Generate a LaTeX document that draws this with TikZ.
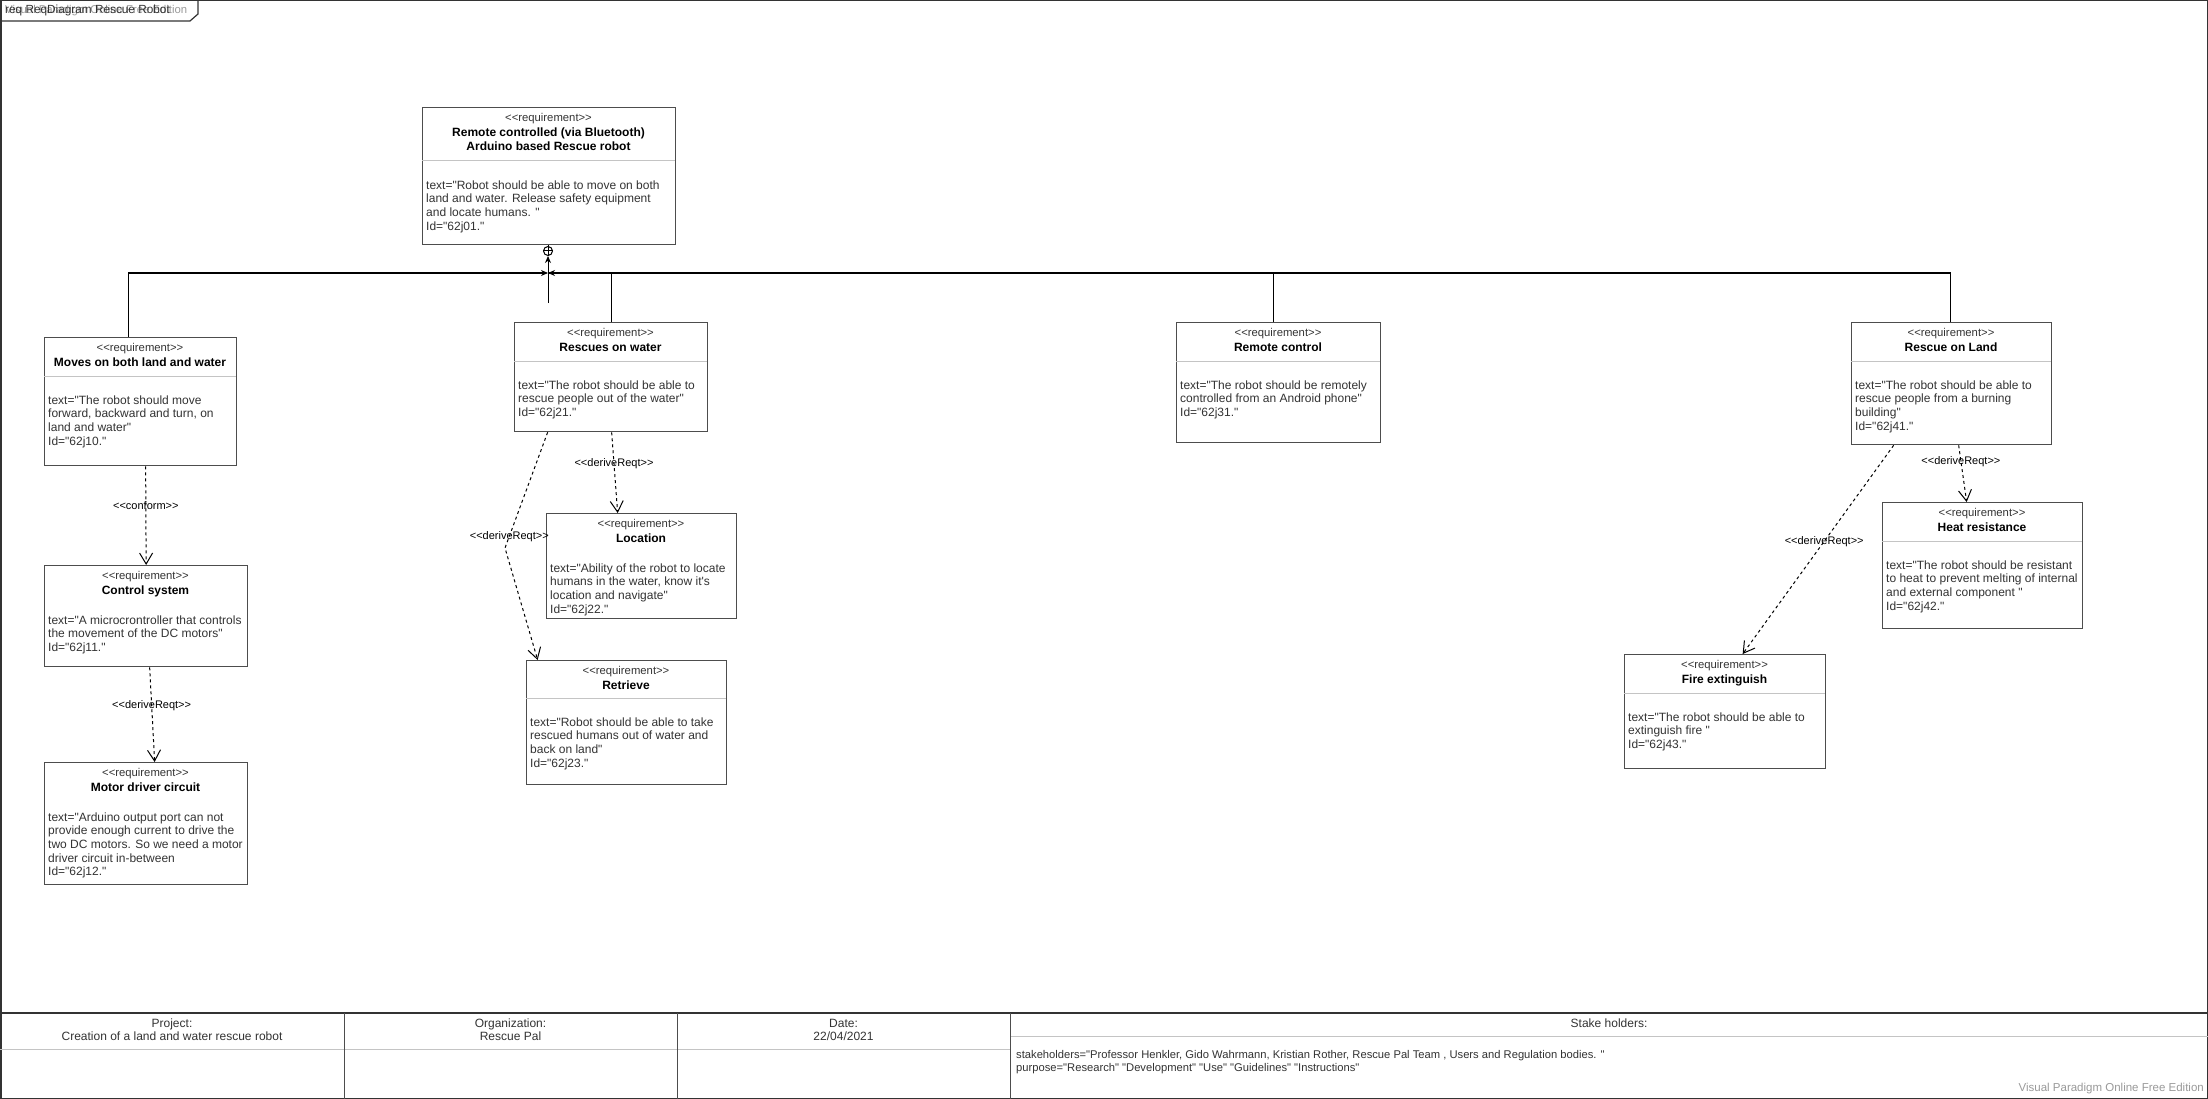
\documentclass[tikz,border=0pt]{standalone}
\usepackage{fontspec}
\setmainfont{Liberation Sans}[Ligatures=TeXOff]
\usetikzlibrary{arrows.meta,calc}

\definecolor{boxline}{HTML}{4D4D4D}
\definecolor{sepcol}{HTML}{C4C4C4}
\definecolor{txt}{HTML}{333333}
\definecolor{wmark}{HTML}{9A9A9A}

\tikzset{
  reqframe/.style={draw=boxline, line width=1.3pt, fill=white, inner sep=0pt},
  sepline/.style={draw=sepcol, line width=1pt},
  stereo/.style={inner sep=0pt, text=txt, font=\fontsize{11.3}{12.6}\selectfont},
  reqname/.style={inner sep=0pt, text=black, align=center, font=\fontsize{12}{14}\selectfont\bfseries},
  reqbody/.style={inner sep=0pt, anchor=north west, align=left, text=txt, font=\fontsize{12}{13.7}\selectfont},
  dep/.style={draw=black, line width=1pt, dash pattern=on 3pt off 3pt, -{Straight Barb[length=11pt,width=13pt,line width=1pt]}},
  lbl/.style={inner sep=0pt, text=black, font=\fontsize{11}{12}\selectfont},
  hubline/.style={draw=black, line width=1.5pt},
  hubtip/.style={-{Stealth[length=7pt,width=6pt]}},
  foot/.style={inner sep=0pt, text=txt, font=\fontsize{11.2}{13}\selectfont},
  foothead/.style={inner sep=0pt, text=txt, align=center, font=\fontsize{12}{13}\selectfont},
}

% requirement box: name, left, top, right, bottom, separator y (0 = none), title, body
\newcommand{\reqbox}[8]{%
  \node[reqframe, anchor=north west, minimum width={#4-#2}, minimum height={#5-#3}] (#1) at (#2,#3) {};
  \node[stereo, anchor=north] (#1-st) at ({(#2+#4)/2},{#3+5.7}) {\strut<<requirement>>};
  \node[reqname, anchor=north] (#1-nm) at ({(#2+#4)/2},{#3+19.5}) {\strut #7};
  \ifnum#6>0
    \draw[sepline] (#2,#6) -- (#4,#6);
    \node[reqbody] (#1-tx) at ({#2+4},{#6+18.3}) {\strut #8};
  \else
    \node[reqbody] (#1-tx) at ({#2+4},{#3+49.3}) {\strut #8};
  \fi
}

\begin{document}
\begin{tikzpicture}[x=1pt, y=-1pt]
\useasboundingbox (0,0) rectangle (2208,1099);
\fill[white] (0,0) rectangle (2208,1099);

% diagram frame and its name tab
\draw[draw=txt, line width=1.5pt] (0.75,0.75) rectangle (2207.25,1098.25);
\draw[draw=txt, line width=1.2pt] (0,21) -- (190,21) -- (198,14) -- (198,0);
\node[inner sep=0pt, anchor=west, text=wmark, font=\fontsize{11.3}{13}\selectfont] (tabwm) at (5,10.5) {Visual Paradigm Online Free Edition};
\node[inner sep=0pt, anchor=west, text=txt, font=\fontsize{11.8}{13}\selectfont] (tabname) at (5,10.5) {req ReqDiagram Rescue Robot};

% requirements
\reqbox{root}{422}{107}{675}{244}{161}{Remote controlled (via Bluetooth)\\Arduino based Rescue robot}
  {text="Robot should be able to move on both\\land and water. Release safety equipment\\and locate humans. "\\Id="62j01."}
\reqbox{moves}{44}{337}{236}{465}{376}{Moves on both land and water}
  {text="The robot should move\\forward, backward and turn, on\\land and water"\\Id="62j10."}
\reqbox{ctrl}{44}{565}{247}{666}{0}{Control system}
  {text="A microcrontroller that controls\\the movement of the DC motors"\\Id="62j11."}
\reqbox{motor}{44}{762}{247}{884}{0}{Motor driver circuit}
  {text="Arduino output port can not\\provide enough current to drive the\\two DC motors. So we need a motor\\driver circuit in-between\\Id="62j12."}
\reqbox{water}{514}{322}{707}{431}{361}{Rescues on water}
  {text="The robot should be able to\\rescue people out of the water"\\Id="62j21."}
\reqbox{loc}{546}{513}{736}{618}{0}{Location}
  {text="Ability of the robot to locate\\humans in the water, know it's\\location and navigate"\\Id="62j22."}
\reqbox{retr}{526}{660}{726}{784}{698}{Retrieve}
  {text="Robot should be able to take\\rescued humans out of water and\\back on land"\\Id="62j23."}
\reqbox{rc}{1176}{322}{1380}{442}{361}{Remote control}
  {text="The robot should be remotely\\controlled from an Android phone"\\Id="62j31."}
\reqbox{land}{1851}{322}{2051}{444}{361}{Rescue on Land}
  {text="The robot should be able to\\rescue people from a burning\\building"\\Id="62j41."}
\reqbox{heat}{1882}{502}{2082}{628}{541}{Heat resistance}
  {text="The robot should be resistant\\to heat to prevent melting of internal\\and external component  "\\Id="62j42."}
\reqbox{fire}{1624}{654}{1825}{768}{693}{Fire extinguish}
  {text="The robot should be able to\\extinguish fire "\\Id="62j43."}

% containment tree
\node[circle, draw=black, line width=1pt, minimum size=9pt, inner sep=0pt] (cp) at (548,251) {};
\draw[line width=1pt] (cp.north) -- (cp.south) (cp.west) -- (cp.east);
\draw[line width=1pt] (root.south -| cp.north) -- (cp.north);
\coordinate (hub) at (548,273);
\coordinate (stub) at (548,303);
\draw[line width=1pt, hubtip] (stub) -- (cp.south);
\draw[hubline, hubtip] ([xshift=-12pt]moves.north) |- (hub);
\draw[hubline] ([xshift=0.5pt]water.north) |- (hub);
\draw[hubline, hubtip] ([xshift=-5pt]rc.north) |- (hub);
\draw[hubline] ([xshift=-1pt]land.north) |- (hub);

% dependencies
\draw[dep] ([xshift=5pt]moves.south) -- node[lbl, pos=0.4] (l1) {<<conform>>} (ctrl.north);
\draw[dep] ([xshift=3.5pt]ctrl.south) -- node[lbl, pos=0.4] (l2) {<<deriveReqt>>} ([xshift=8.5pt]motor.north);
\draw[dep] ([xshift=0.5pt]water.south) -- node[lbl, pos=0.39] (l3) {<<deriveReqt>>} ([xshift=-24pt]loc.north);
\coordinate (wbend) at (505,548);
\draw[dep] ([xshift=-63.5pt]water.south) -- node[lbl, pos=0.9] (l4) {<<deriveReqt>>} (wbend) -- ([xshift=-89pt]retr.north);
\draw[dep] ([xshift=7pt]land.south) -- node[lbl, pos=0.28] (l5) {<<deriveReqt>>} ([xshift=-16pt]heat.north);
\draw[dep] ([xshift=-58pt]land.south) -- node[lbl, pos=0.46] (l6) {<<deriveReqt>>} ([xshift=17.5pt]fire.north);

% footer table
\draw[draw=txt, line width=1.5pt] (0,1013) -- (2208,1013);
\draw[sepline] (0,1049) -- (1010,1049);
\draw[sepline] (1010,1036) -- (2208,1036);
\draw[draw=boxline, line width=1pt] (344,1013) -- (344,1099) (677,1013) -- (677,1099) (1010,1013) -- (1010,1099);
\node[foothead] (fproj) at (172,1030) {Project:\\Creation of a land and water rescue robot};
\node[foothead] (forg) at (510.5,1030) {Organization:\\Rescue Pal};
\node[foothead] (fdate) at (843.5,1030) {Date:\\22/04/2021};
\node[foothead] (fsh) at (1609,1023.5) {Stake holders:};
\node[foot, anchor=north west, align=left] (fshtxt) at (1016,1050) {stakeholders="Professor Henkler, Gido Wahrmann, Kristian Rother, Rescue Pal Team , Users and Regulation bodies. "\\purpose="Research"  "Development"  "Use"  "Guidelines"  "Instructions"};
\node[foot, anchor=east, text=wmark, font=\fontsize{11.5}{13}\selectfont] (fwm) at (2204,1089) {Visual Paradigm Online Free Edition};
\end{tikzpicture}
\end{document}
